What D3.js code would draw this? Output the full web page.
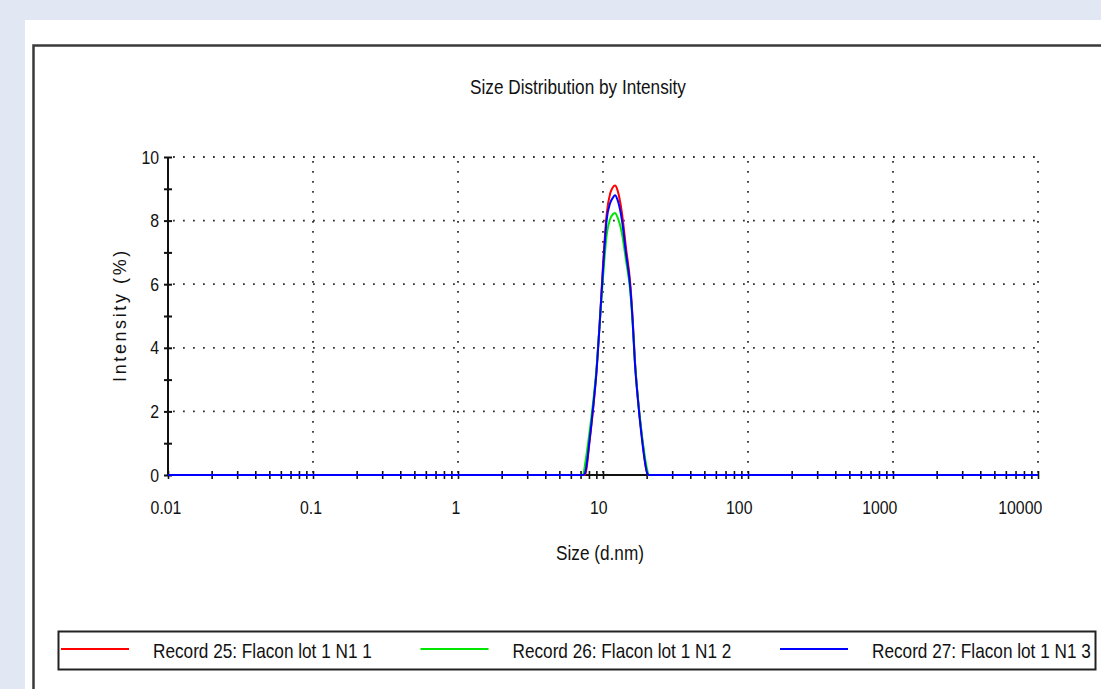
<!DOCTYPE html>
<html>
<head>
<meta charset="utf-8">
<script src="https://cdn.jsdelivr.net/npm/d3@7"></script>
<style>
  body { margin: 0; background: #e1e8f3; overflow: hidden; }
  text { font-family: "Liberation Sans", Arial, sans-serif; fill: #111; }
</style>
</head>
<body>
<div id="chartdiv"></div>
<script>
/* --- data --- */
let sizes   = [0.01, 7.3, 7.5, 8.1, 8.6, 9.0, 9.5, 10.0, 10.6, 11.2, 11.7, 12.1, 12.6, 13.5, 14.4, 15.4, 16.0, 16.6, 17.5, 18.5, 20.2, 20.6, 10000]
let record25 = [0, 0, 0, 1.1, 2.2, 3.2, 4.8, 6.6, 8.2, 8.85, 9.05, 9.1, 8.95, 8.25, 7.15, 6.05, 4.95, 3.6, 2.3, 1.25, 0.05, 0, 0]
let record26 = [0, 0, 0.3, 1.4, 2.4, 3.3, 4.8, 6.2, 7.55, 8.05, 8.2, 8.24, 8.1, 7.6, 6.75, 5.8, 4.8, 3.55, 2.3, 1.3, 0.15, 0, 0]
let record27 = [0, 0, 0.05, 1.15, 2.25, 3.2, 4.8, 6.45, 8.02, 8.55, 8.72, 8.8, 8.65, 8.02, 6.98, 5.92, 4.87, 3.52, 2.26, 1.19, 0.05, 0, 0]
let seriesNames = ["Record 25: Flacon lot 1 N1 1", "Record 26: Flacon lot 1 N1 2", "Record 27: Flacon lot 1 N1 3"]
let seriesColors = ["#ff0000", "#00e600", "#0000ff"]
let xTicks = [0.01, 0.1, 1, 10, 100, 1000, 10000]
let xTickLabels = ["0.01", "0.1", "1", "10", "100", "1000", "10000"]
let yTicks = [0, 2, 4, 6, 8, 10]
/* -------------------------------- */

let width = 1101
let height = 689
let plotLeft = 168
let plotRight = 1038
let plotTop = 157
let plotBottom = 475

// narrow-looking text: regular font squeezed horizontally
function narrowText(parent, x, y, str, size, sx, anchor){
   return parent.append("text")
      .attr("transform", `translate(${x}, ${y}) scale(${sx}, 1)`)
      .attr("text-anchor", anchor || "start")
      .style("font-size", size + "px")
      .text(str)
}

function drawChart(){
   let svg = d3.select('#chartdiv')
      .append('svg')
      .attr("width", width)
      .attr("height", height)

   // page background + white panel + frame
   svg.append("rect").attr("width", width).attr("height", height).attr("fill", "#e1e8f3")
   svg.append("rect").attr("x", 25).attr("y", 20).attr("width", width - 25).attr("height", height - 20).attr("fill", "#fff")
   svg.append("path")
      .attr("d", `M33.5,${height} V45.5 H${width}`)
      .attr("fill", "none").attr("stroke", "#3a3a3a").attr("stroke-width", 2.5)

   let xscale = d3.scaleLog().domain([0.01, 10000]).range([plotLeft, plotRight])
   let yscale = d3.scaleLinear().domain([0, 10]).range([plotBottom, plotTop])

   // dotted grid
   let grid = svg.append("g").attr("stroke", "#333").attr("stroke-width", 1.8)
      .attr("stroke-dasharray", "1.8,8.2").attr("fill", "none")
   yTicks.filter(d => d > 0).forEach(d => {
      grid.append("line").attr("x1", plotLeft + 5).attr("x2", plotRight)
         .attr("y1", yscale(d)).attr("y2", yscale(d))
   })
   xTicks.filter(d => d > 0.01).forEach(d => {
      grid.append("line").attr("x1", xscale(d)).attr("x2", xscale(d))
         .attr("y1", plotTop + 4).attr("y2", plotBottom)
   })

   // y axis
   let yMinor = d3.range(0, 11, 1)
   let y_axis = d3.axisLeft(yscale).tickValues(yMinor).tickFormat("").tickSize(4)
   let gy = svg.append("g").attr("transform", `translate(${plotLeft}, 0)`).call(y_axis)
   gy.select(".domain").attr("stroke", "#111").attr("stroke-width", 2).attr("d", `M0,${plotTop}V${plotBottom}`)
   gy.selectAll(".tick line").attr("x1", 4).attr("stroke", "#111").attr("stroke-width", 2)
   yTicks.forEach(d => {
      narrowText(svg, plotLeft - 9, yscale(d) + 6.5, d, 18, 0.88, "end")
   })

   // x axis
   let xMinor = []
   for (let e = -2; e < 4; e++) for (let m = 1; m < 10; m++) xMinor.push(m * Math.pow(10, e))
   xMinor.push(10000)
   let x_axis = d3.axisBottom(xscale).tickValues(xMinor).tickFormat("").tickSize(4)
   let gx = svg.append("g").attr("transform", `translate(0, ${plotBottom})`).call(x_axis)
   gx.select(".domain").attr("stroke", "#111").attr("stroke-width", 2).attr("d", `M${plotLeft},0H${plotRight}`)
   gx.selectAll(".tick line").attr("y1", -4).attr("stroke", "#111").attr("stroke-width", 1.6)

   xTicks.forEach((d, i) => {
      let shift = -2 - 4.5 * Math.max(0, Math.log10(d) - 0.5)
      narrowText(svg, xscale(d) + shift, plotBottom + 39, xTickLabels[i], 18, 0.88, "middle")
   })

   // curves
   let series = [record25, record26, record27]
   let line = d3.line()
      .x((d, i) => xscale(sizes[i]))
      .y(d => yscale(d))
      .curve(d3.curveMonotoneX)
   series.forEach((vals, k) => {
      svg.append("path").datum(vals)
         .attr("d", line)
         .attr("fill", "none")
         .attr("stroke", seriesColors[k])
         .attr("stroke-width", 2)
   })

   // titles
   narrowText(svg, 578, 94, "Size Distribution by Intensity", 20, 0.86, "middle")
   narrowText(svg, 600, 560, "Size (d.nm)", 20, 0.86, "middle")
   svg.append("text").attr("transform", "translate(126, 315) rotate(-90)")
      .attr("text-anchor", "middle")
      .style("font-size", "18px")
      .style("letter-spacing", "2.6px")
      .text("Intensity (%)")

   // legend
   let lg = svg.append("g")
   lg.append("rect").attr("x", 58.5).attr("y", 631.5).attr("width", 1037).attr("height", 38)
      .attr("fill", "#fff").attr("stroke", "#222").attr("stroke-width", 2)
   seriesNames.forEach((name, k) => {
      let x0 = 61 + k * 359.5
      lg.append("line").attr("x1", x0).attr("x2", x0 + 68).attr("y1", 649).attr("y2", 649)
         .attr("stroke", seriesColors[k]).attr("stroke-width", 2)
      narrowText(lg, x0 + 92, 658, name, 20, 0.86, "start")
   })
}
drawChart()
</script>
</body>
</html>
